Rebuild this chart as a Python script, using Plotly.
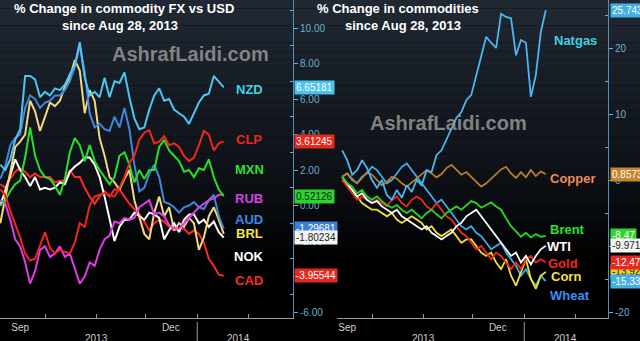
import pandas as pd
import plotly.graph_objects as go

# ---------------- data ----------------
# sample dates for the FX panel (every 3 days)
fx_dates = pd.date_range("2013-09-04", periods=46, freq="3D")
# sample dates for the commodities panel (every 3 days)
cmd_dates = pd.date_range("2013-09-13", periods=42, freq="3D")

nzd = [2.3, 2.0, 2.6, 3.7, 4.3, 7.3, 7.3, 7.1, 6.1, 6.4, 6.2, 6.6, 6.5, 6.8, 7.4, 7.9,
       9.2, 7.2, 6.2, 6.4, 6.1, 7.2, 6.1, 7.0, 6.9, 7.5, 6.1, 4.9, 4.3, 4.4, 5.4, 6.2,
       6.6, 5.9, 6.0, 5.4, 5.2, 5.0, 4.6, 5.2, 5.8, 6.2, 6.3, 7.3, 7.0, 6.65]
aud = [1.5, 2.2, 3.4, 3.8, 4.0, 5.5, 6.2, 6.0, 5.5, 5.8, 5.9, 6.2, 6.2, 6.5, 7.0, 7.8,
       9.0, 7.5, 5.2, 4.4, 4.6, 4.3, 4.2, 5.0, 4.4, 5.5, 4.3, 2.3, 0.8, 1.0, 1.8, 2.3,
       1.6, 0.2, 0.1, -0.1, -0.4, -0.1, 0.0, 0.2, -0.1, -0.2, 0.3, 0.6, -0.6, -1.3]
brl = [-1.0, 0.5, 1.8, 3.3, 3.6, 4.0, 5.9, 5.3, 4.2, 5.0, 5.8, 5.6, 5.9, 6.7, 7.2, 8.2,
       7.6, 5.2, 6.5, 5.9, 3.8, 2.8, 1.6, 1.3, 0.9, 1.5, 2.0, 0.3, -0.7, -1.6, -1.9, -0.4,
       0.5, -0.6, -0.1, -1.4, -1.0, -1.2, -0.7, -1.0, -2.5, -1.8, -0.6, -0.1, -0.8, -1.6]
mxn = [0.0, 0.3, 0.8, 1.2, 1.4, 2.7, 4.4, 2.8, 2.0, 1.6, 1.5, 1.1, 0.6, 1.5, 3.0, 3.8,
       3.4, 2.5, 3.4, 2.5, 2.0, 1.6, 1.2, 1.6, 2.8, 3.0, 2.3, 1.3, 2.0, 1.5, 2.0, 2.0,
       3.3, 3.7, 3.1, 2.8, 2.5, 1.9, 2.0, 1.6, 2.1, 2.0, 2.6, 1.6, 0.9, 0.52]
clp = [0.9, 0.6, -0.3, -1.0, -1.8, -2.7, -3.1, -3.0, -2.3, -1.5, -2.4, -2.7, -2.5, -2.6, -2.7, -2.1,
       -1.0, -1.2, 0.0, 0.5, 0.6, 0.7, 0.6, 0.5, 1.0, 1.6, 2.4, 2.8, 3.7, 4.1, 4.25, 3.5,
       3.6, 3.9, 3.4, 3.5, 3.3, 2.8, 2.5, 2.7, 3.4, 4.2, 4.0, 3.1, 3.5, 3.61]
rub = [0.3, 0.1, -0.8, -1.9, -2.3, -3.2, -4.4, -3.7, -2.5, -2.3, -2.9, -2.7, -2.3, -2.9, -2.7, -3.6,
       -4.4, -4.0, -3.2, -3.4, -2.5, -1.9, -1.7, -0.9, -1.0, -0.7, -0.8, -0.7, -0.1, 0.1, 0.3, -0.5,
       -0.4, -0.6, -1.1, -1.3, -1.3, -1.0, -0.7, -0.4, -0.1, 0.1, 0.3, 0.4, 0.6, 0.6]
nok = [0.0, 0.8, 1.7, 2.6, 2.0, 1.6, 1.1, 1.6, 0.9, 1.0, 0.9, 1.0, 1.3, 1.2, 1.9, 2.2,
       2.4, 2.7, 2.7, 2.3, 1.6, 0.5, -0.8, -2.0, -1.2, -0.8, -0.8, -0.4, -0.6, -0.8, -0.4, -0.5,
       -0.7, -1.9, -1.4, -1.0, -1.5, -0.8, -0.5, -0.5, -1.0, -0.8, -1.2, -0.9, -1.5, -1.80]
cad = [1.2, 1.0, 1.5, 1.9, 2.1, 1.9, 1.6, 1.8, 1.6, 1.6, 1.6, 1.3, 1.4, 1.4, 2.0, 1.6,
       1.6, 1.0, 0.5, 0.1, 0.5, 0.8, 0.5, 0.9, 0.9, 0.5, 0.1, -0.2, -0.5, -0.9, -1.4, -1.0,
       -0.8, -0.9, -1.2, -1.4, -1.3, -1.3, -1.6, -1.4, -1.6, -2.1, -3.0, -3.4, -3.9, -3.96]

natgas = [4.5, 3.0, 0.8, 1.5, 3.0, 1.8, 0.0, -1.2, 0.0, -2.3, -3.0, -1.5, -2.7, -0.8,
          -1.8, 0.0, -0.8, 1.5, 1.2, 3.8, 4.5, 6.1, 7.6, 9.4, 10.3, 12.1, 12.9, 15.9,
          18.9, 21.7, 20.8, 20.0, 25.2, 24.7, 24.5, 18.9, 21.2, 20.8, 12.6, 15.9, 22.4, 25.74]
copper = [0.5, 1.0, 0.2, -0.5, 0.3, 1.2, 0.8, 0.0, -0.8, -0.3, 0.5, 0.2, -0.5, -1.0,
          -0.4, 0.3, 0.8, 1.5, 1.0, 0.4, 0.9, 1.8, 2.3, 1.5, 0.8, 1.2, 0.5, -0.2,
          -1.0, -0.5, 0.2, 0.8, 1.6, 2.0, 1.0, 0.3, 1.2, 0.4, 1.5, 0.6, 1.3, 0.86]
brent = [0.5, -0.5, -1.0, -2.0, -1.5, -2.5, -3.0, -2.5, -3.2, -3.8, -4.2, -3.8, -4.5, -5.0,
         -4.5, -5.2, -5.8, -5.0, -4.5, -5.2, -5.8, -5.0, -4.5, -4.0, -4.5, -3.8, -3.2, -3.5,
         -4.2, -3.8, -3.4, -4.0, -4.5, -5.8, -7.0, -7.8, -8.6, -8.0, -8.7, -8.2, -8.6, -8.47]
wti = [0.5, -0.5, -1.5, -2.5, -2.0, -3.0, -3.5, -3.2, -4.0, -4.5, -5.0, -4.5, -5.5, -6.0,
       -6.5, -7.0, -7.5, -7.0, -8.0, -8.5, -9.0, -8.5, -8.0, -7.0, -6.5, -5.5, -5.0, -4.5,
       -5.5, -6.5, -7.5, -8.5, -9.5, -10.5, -11.5, -11.0, -12.5, -11.5, -12.8, -11.5, -10.5, -9.97]
gold = [0.0, -1.0, -2.0, -3.0, -2.5, -3.0, -3.5, -3.0, -3.5, -4.0, -3.0, -2.5, -3.5, -4.0,
        -3.0, -2.5, -3.0, -4.0, -4.5, -3.5, -4.5, -5.5, -6.0, -7.0, -8.0, -8.5, -9.5, -10.5,
        -10.0, -11.0, -12.0, -11.0, -11.5, -12.5, -13.5, -12.5, -13.5, -12.0, -11.5, -12.5, -12.0, -12.47]
corn = [0.0, -0.8, -1.5, -2.5, -3.5, -4.0, -4.5, -4.5, -5.0, -5.5, -5.0, -6.0, -6.5, -6.0,
        -5.5, -6.0, -6.5, -7.5, -7.0, -8.0, -8.5, -8.0, -7.5, -8.5, -9.5, -9.0, -9.0, -10.0,
        -11.0, -11.5, -11.0, -12.5, -13.5, -12.0, -14.5, -16.0, -14.0, -12.0, -15.0, -16.5, -14.5, -13.92]
wheat = [0.5, 1.0, 0.0, -0.5, 0.5, 1.0, 2.0, 1.5, 0.5, -0.5, 0.0, 1.0, 2.0, 2.5,
         1.5, 0.5, -0.5, -1.5, -2.5, -3.5, -3.0, -4.0, -5.0, -6.0, -7.0, -7.5, -7.0, -8.0,
         -8.5, -9.5, -10.5, -10.0, -9.5, -11.0, -12.0, -13.0, -14.5, -13.5, -15.0, -16.0, -14.5, -15.33]

fx_tick_vals = [-6, -4, -2, 0, 2, 4, 6, 8, 10]
cmd_tick_vals = [-20, -10, 0, 10, 20]

# ---------------- styling ----------------
W, H = 640, 341
PLOT_BOTTOM = 318
L_X0, L_X1 = 0, 293
R_X0, R_X1 = 337, 608
PX_PER_DAY = 1.655
OCT1 = pd.Timestamp("2013-10-01")

left_start = OCT1 - pd.Timedelta(days=(45 - L_X0) / PX_PER_DAY)
left_end = left_start + pd.Timedelta(days=(L_X1 - L_X0) / PX_PER_DAY)
right_start = OCT1 - pd.Timedelta(days=(372 - R_X0) / PX_PER_DAY)
right_end = right_start + pd.Timedelta(days=(R_X1 - R_X0) / PX_PER_DAY)

# pixel -> value calibration of the two value axes
L_ZERO_PX, L_PX_PER_UNIT = 205.5, 17.75
R_ZERO_PX, R_PX_PER_UNIT = 180.0, 6.6
left_range = [(L_ZERO_PX - PLOT_BOTTOM) / L_PX_PER_UNIT, L_ZERO_PX / L_PX_PER_UNIT]
right_range = [(R_ZERO_PX - PLOT_BOTTOM) / R_PX_PER_UNIT, R_ZERO_PX / R_PX_PER_UNIT]

FONT = "Liberation Sans"
AXIS_BLUE = "#6aaed0"
AXIS_LINE = "#5590b4"

# name, values, line colour, label colour, last-value text, text colour in box
fx_series = [
    ("CAD", cad, "#ff2a1f", "#ff2a1f", "-3.95544", "white"),
    ("NOK", nok, "#ffffff", "#ffffff", "-1.80234", "#222222"),
    ("BRL", brl, "#f3d67e", "#f5e14a", None, None),
    ("AUD", aud, "#3f86dc", "#3b8be6", "-1.29681", "white"),
    ("RUB", rub, "#e03ce6", "#d642e0", None, None),
    ("MXN", mxn, "#27e027", "#2be32b", "0.52126", "#0b2a0b"),
    ("CLP", clp, "#f0261d", "#f0261d", "3.61245", "white"),
    ("NZD", nzd, "#4cc6f0", "#3fd2e6", "6.65181", "white"),
]
fx_label_y = {"NZD": 89, "CLP": 139, "MXN": 169, "RUB": 198, "AUD": 219,
              "BRL": 234, "NOK": 256, "CAD": 280}
fx_box_color = {"NZD": "#4cc2ee", "CLP": "#e8281e", "MXN": "#2fd42f", "AUD": "#3a7fd6",
                "NOK": "#f4f4f4", "CAD": "#e8281e"}
# stacking order of the value boxes (last one on top)
fx_box_order = ["AUD", "NOK", "CAD", "MXN", "CLP", "NZD"]

cmd_series = [
    ("Wheat", wheat, "#3cacea", "#3a8ef0", "-15.33", "white"),
    ("Corn", corn, "#f2dc3a", "#f4e43c", "-13.92", "#222222"),
    ("Gold", gold, "#f0281e", "#f0281e", "-12.47", "white"),
    ("WTI", wti, "#ffffff", "#ffffff", "-9.971", "#222222"),
    ("Brent", brent, "#25d625", "#2ee02e", "-8.47", "white"),
    ("Copper", copper, "#b97a32", "#ec8a5c", "0.8573", "white"),
    ("Natgas", natgas, "#4cb6ee", "#3fd2e6", "25.743", "white"),
]
cmd_label_pos = {"Natgas": (575, 40), "Copper": (573, 178), "Brent": (567, 229),
                 "WTI": (559, 246), "Gold": (563, 263), "Corn": (566, 276),
                 "Wheat": (570, 295)}
cmd_box_color = {"Natgas": "#45b0e4", "Copper": "#c8862e", "Brent": "#2fd42f",
                 "WTI": "#f4f4f4", "Gold": "#e8281e", "Corn": "#e8cf2a", "Wheat": "#45b0e4"}
cmd_box_order = ["Corn", "Gold", "Wheat", "Brent", "WTI", "Copper", "Natgas"]

fig = go.Figure()

for name, vals, lc, _, _, _ in fx_series:
    fig.add_trace(go.Scatter(x=fx_dates, y=vals, mode="lines", name=name,
                             line=dict(color=lc, width=2), xaxis="x", yaxis="y",
                             showlegend=False, hoverinfo="skip"))
for name, vals, lc, _, _, _ in cmd_series:
    fig.add_trace(go.Scatter(x=cmd_dates, y=vals, mode="lines", name=name,
                             line=dict(color=lc, width=1.8), xaxis="x2", yaxis="y2",
                             showlegend=False, hoverinfo="skip"))

def px_x(p):
    return p / W

def px_y(p):
    return 1 - p / H

y_dom = [px_y(PLOT_BOTTOM), 1]

# background: dark slate fading to black toward the bottom
shapes = []
N = 40
top = (33, 41, 52)
mid = (14, 18, 24)
for j in range(N):
    y0p = j * H / N
    y1p = (j + 1) * H / N
    t = (y0p + y1p) / 2
    if t < 170:
        f = t / 170
        c = [int(top[k] + (mid[k] - top[k]) * f) for k in range(3)]
    else:
        f = min((t - 170) / 100, 1)
        c = [int(mid[k] * (1 - f)) for k in range(3)]
    shapes.append(dict(type="rect", xref="paper", yref="paper", x0=0, x1=1,
                       y0=px_y(y1p), y1=px_y(y0p), fillcolor="rgb(%d,%d,%d)" % tuple(c),
                       line=dict(width=0), layer="below"))

# year separators under the time axis
for xr in ("x", "x2"):
    shapes.append(dict(type="line", xref=xr, yref="paper", x0="2014-01-01", x1="2014-01-01",
                       y0=0, y1=px_y(322), line=dict(color="#9a9a9a", width=1)))

annotations = []

def add_text(text, x, y, size, color, bold=True):
    annotations.append(dict(text="<b>%s</b>" % text if bold else text, x=px_x(x), y=px_y(y),
                            xref="paper", yref="paper", xanchor="center", yanchor="middle",
                            showarrow=False,
                            font=dict(family=FONT, size=size, color=color)))

# watermarks
add_text("AshrafLaidi.com", 190, 54, 20, "rgba(150,150,150,0.85)")
add_text("AshrafLaidi.com", 448, 123, 20, "rgba(150,150,150,0.85)")

# titles
add_text("% Change in commodity FX vs USD", 124, 9, 13, "white")
add_text("since Aug 28, 2013", 120, 25, 13, "white")
add_text("% Change in commodities", 398, 9, 13, "white")
add_text("since Aug 28, 2013", 403, 25, 13, "white")

# series names
for name, _, _, tc, _, _ in fx_series:
    add_text(name, 249, fx_label_y[name], 13, tc)
for name, _, _, tc, _, _ in cmd_series:
    x, y = cmd_label_pos[name]
    add_text(name, x, y, 13, tc)

# value boxes on the value axes
fx_lookup = {s[0]: s for s in fx_series}
for name in fx_box_order:
    _, vals, _, _, box, bc = fx_lookup[name]
    annotations.append(dict(text=box, x=px_x(294), xanchor="left", xref="paper",
                            y=float(box), yref="y", yanchor="middle", showarrow=False,
                            font=dict(family=FONT, size=10, color=bc),
                            bgcolor=fx_box_color[name], borderpad=1))
cmd_lookup = {s[0]: s for s in cmd_series}
for name in cmd_box_order:
    _, vals, _, _, box, bc = cmd_lookup[name]
    annotations.append(dict(text=box, x=px_x(610), xanchor="left", xref="paper",
                            y=float(box), yref="y2", yanchor="middle", showarrow=False,
                            font=dict(family=FONT, size=10, color=bc),
                            bgcolor=cmd_box_color[name], borderpad=1))

# time axis labels
for xr in ("x", "x2"):
    for txt, d in (("2013", "2013-11-01"), ("2014", "2014-01-26")):
        annotations.append(dict(text=txt, x=d, xref=xr, y=px_y(331), yref="paper",
                                xanchor="center", yanchor="top", showarrow=False,
                                font=dict(family=FONT, size=10, color="#cfcfcf")))

month_starts = ["2013-10-01", "2013-11-01", "2013-12-01", "2014-01-01", "2014-02-01"]
xaxis_common = dict(
    type="date", showgrid=False, zeroline=False, showline=True, linecolor="#9a9a9a",
    linewidth=1, tickmode="array", tickvals=["2013-09-16", "2013-12-16"],
    ticktext=["Sep", "Dec"], ticks="", tickfont=dict(family=FONT, size=10, color="#cfcfcf"),
    minor=dict(tickmode="array", tickvals=month_starts, ticks="inside", ticklen=4,
               tickcolor="#9a9a9a", showgrid=False),
    fixedrange=True,
)
yaxis_common = dict(
    side="right", showgrid=False, zeroline=False, showline=True, linecolor=AXIS_LINE,
    linewidth=1, ticks="outside", ticklen=4, tickcolor=AXIS_BLUE,
    tickfont=dict(family=FONT, size=10, color=AXIS_BLUE), fixedrange=True,
)

fig.update_layout(
    width=W, height=H, margin=dict(l=0, r=0, t=0, b=0),
    paper_bgcolor="black", plot_bgcolor="rgba(0,0,0,0)",
    xaxis=dict(domain=[px_x(L_X0), px_x(L_X1)], range=[left_start, left_end],
               anchor="y", **xaxis_common),
    xaxis2=dict(domain=[px_x(R_X0), px_x(R_X1)], range=[right_start, right_end],
                anchor="y2", **xaxis_common),
    yaxis=dict(domain=y_dom, range=left_range, anchor="x", tickvals=fx_tick_vals,
               ticktext=["%.2f" % v for v in fx_tick_vals],
               minor=dict(tickmode="array", tickvals=[-5, -3, -1, 1, 3, 5, 7, 9, 11],
                          ticks="inside", ticklen=3, tickcolor=AXIS_BLUE),
               **yaxis_common),
    yaxis2=dict(domain=y_dom, range=right_range, anchor="x2", tickvals=cmd_tick_vals,
                ticktext=[str(v) for v in cmd_tick_vals],
                minor=dict(tickmode="array", tickvals=[-15, -5, 5, 15, 25],
                           ticks="inside", ticklen=3, tickcolor=AXIS_BLUE),
                **yaxis_common),
    shapes=shapes, annotations=annotations, showlegend=False, hovermode=False,
)

fig.write_html("out.html", config={"displayModeBar": False})
